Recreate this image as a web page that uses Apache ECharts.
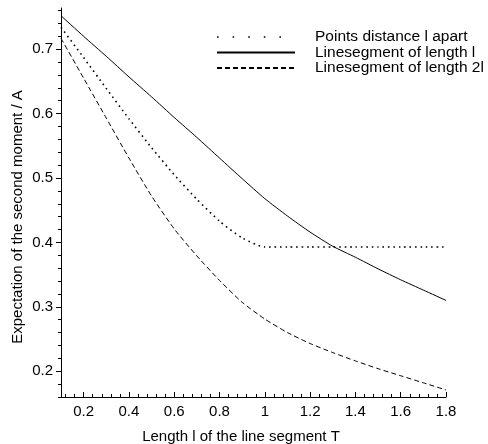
<!DOCTYPE html>
<html><head><meta charset="utf-8">
<script src="https://cdn.jsdelivr.net/npm/echarts@6/dist/echarts.min.js"></script>
<style>html,body{margin:0;padding:0;background:#fff}#c{width:488px;height:444px}</style>
</head><body><div id="c"></div>
<script>
const lengths = [0.1,0.2,0.3,0.4,0.5,0.6,0.7,0.8,0.9,1.0,1.1,1.2,1.3,1.4,1.5,1.6,1.7,1.8];
const pointsApart = [0.734,0.687,0.639,0.592,0.547,0.505,0.467,0.433,0.407,0.393,0.393,0.393,0.393,0.393,0.393,0.393,0.393,0.393];
const segmentL = [0.752,0.720,0.689,0.657,0.626,0.594,0.563,0.531,0.499,0.468,0.441,0.416,0.394,0.377,0.359,0.342,0.326,0.310];
const segment2L = [0.717,0.655,0.593,0.531,0.472,0.421,0.379,0.341,0.307,0.281,0.260,0.243,0.229,0.216,0.204,0.193,0.182,0.171];
const seriesNames = ['Points distance l apart','Linesegment of length l','Linesegment of length 2l'];
const xTickLabels = ['0.2','0.4','0.6','0.8','1','1.2','1.4','1.6','1.8'];
const yTickLabels = ['0.2','0.3','0.4','0.5','0.6','0.7'];
const xTitle = 'Length l of the line segment T';
const yTitle = 'Expectation of the second moment / A';

const FONT = '"Liberation Sans", Arial, Helvetica, sans-serif';
const xMajor = xTickLabels.map(Number);
const yMajor = yTickLabels.map(Number);
const xMinor = []; for (let k = 3; k <= 45; k++) xMinor.push(Math.round(k * 0.04 * 1000) / 1000);
const yMinor = []; for (let k = 8; k <= 38; k++) yMinor.push(Math.round(k * 0.02 * 1000) / 1000);
function lab(list, vals, v) { for (let i = 0; i < vals.length; i++) if (Math.abs(vals[i] - v) < 1e-6) return list[i]; return ''; }
const black = {color:'#000', width:1};
const XMIN = 0.1, XMAX = 1.8, YMIN = 0.16, YMAX = 0.764;
const hiddenSym = {color:'rgba(0,0,0,0)', borderColor:'rgba(0,0,0,0)', borderWidth:0};

const chart = echarts.init(document.getElementById('c'), null, {renderer:'canvas'});
chart.setOption({
  animation:false,
  backgroundColor:'#fff',
  grid:{left:61, right:42, top:8, bottom:47, containLabel:false, outerBoundsMode:'none'},
  legend:{
    orient:'vertical', left:216, top:29, padding:0, itemWidth:78, itemHeight:14, itemGap:-0.5,
    selectedMode:false,
    itemStyle:hiddenSym,
    textStyle:{fontFamily:FONT, fontSize:15.5, color:'#000', lineHeight:14, padding:[0,0,0,15]},
    data:[
      {name:seriesNames[0], itemStyle:hiddenSym, lineStyle:{type:[1.6,14], width:1.6}},
      {name:seriesNames[1], itemStyle:hiddenSym},
      {name:seriesNames[2], itemStyle:hiddenSym}
    ]
  },
  xAxis:[
    {type:'value', min:XMIN, max:XMAX, position:'bottom', offset:0,
     axisLine:{show:true, onZero:false, lineStyle:black},
     axisTick:{show:true, inside:true, length:3, customValues:xMinor, lineStyle:black},
     axisLabel:{show:false}, splitLine:{show:false}},
    {type:'value', min:XMIN, max:XMAX, position:'bottom', offset:0,
     axisLine:{show:false, onZero:false},
     axisTick:{show:true, inside:true, length:5, customValues:xMajor, lineStyle:black},
     axisLabel:{show:true, customValues:xMajor, margin:7, color:'#000', fontFamily:FONT, fontSize:15,
       formatter:v => lab(xTickLabels, xMajor, v)},
     splitLine:{show:false}}
  ],
  yAxis:[
    {type:'value', min:YMIN, max:YMAX, position:'left', offset:0,
     axisLine:{show:true, onZero:false, lineStyle:black},
     axisTick:{show:true, inside:false, length:3, customValues:yMinor, lineStyle:black},
     axisLabel:{show:false}, splitLine:{show:false}},
    {type:'value', min:YMIN, max:YMAX, position:'left', offset:0,
     axisLine:{show:false, onZero:false},
     axisTick:{show:true, inside:false, length:5, customValues:yMajor, lineStyle:black},
     axisLabel:{show:true, customValues:yMajor, margin:8, color:'#000', fontFamily:FONT, fontSize:15,
       formatter:v => lab(yTickLabels, yMajor, v)},
     splitLine:{show:false}}
  ],
  graphic:[
    {type:'text', x:241, y:437, style:{text:xTitle, fill:'#000', font:'15px ' + FONT, align:'center', verticalAlign:'middle'}},
    {type:'text', x:18, y:217, rotation:Math.PI/2, style:{text:yTitle, fill:'#000', font:'15px ' + FONT, align:'center', verticalAlign:'middle'}}
  ],
  series:[
    {name:seriesNames[0], type:'line', xAxisIndex:0, yAxisIndex:0, symbol:'none', showSymbol:false,
     smooth:0.2, color:'#000',
     lineStyle:{color:'#000', width:1.6, type:[1.6,3.8]},
     data:lengths.map((x,i)=>[x, pointsApart[i]])},
    {name:seriesNames[1], type:'line', xAxisIndex:0, yAxisIndex:0, symbol:'none', showSymbol:false,
     smooth:0.2, color:'#000',
     lineStyle:{color:'#000', width:1},
     data:lengths.map((x,i)=>[x, segmentL[i]])},
    {name:seriesNames[2], type:'line', xAxisIndex:0, yAxisIndex:0, symbol:'none', showSymbol:false,
     smooth:0.2, color:'#000',
     lineStyle:{color:'#000', width:1, type:[5,3]},
     data:lengths.map((x,i)=>[x, segment2L[i]])}
  ]
});
</script></body></html>
